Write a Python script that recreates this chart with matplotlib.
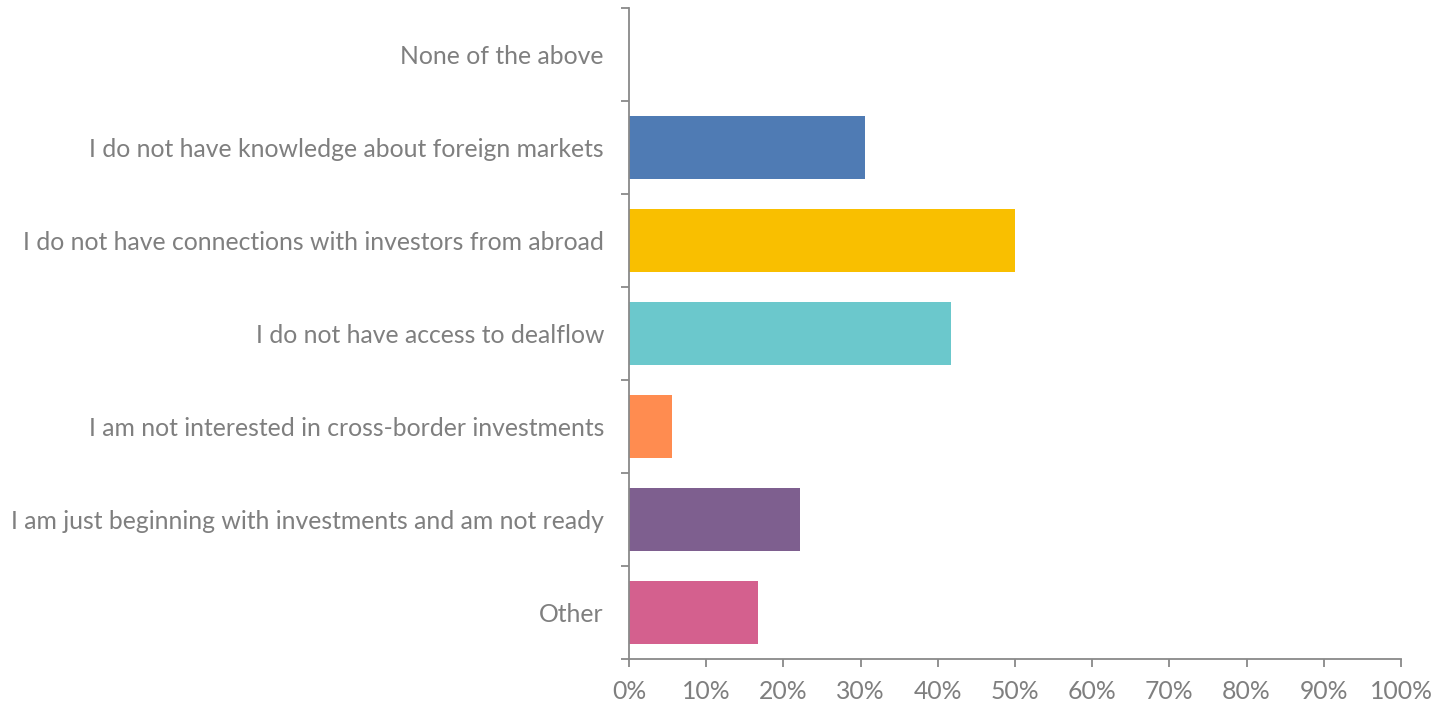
import matplotlib
matplotlib.use("Agg")
import matplotlib.pyplot as plt
from matplotlib.ticker import FixedLocator

categories = [
    "None of the above",
    "I do not have knowledge about foreign markets",
    "I do not have connections with investors from abroad",
    "I do not have access to dealflow",
    "I am not interested in cross-border investments",
    "I am just beginning with investments and am not ready",
    "Other",
]
values = [0.0, 30.6, 50.0, 41.7, 5.6, 22.2, 16.7]
colors = ["#4F7BB4", "#4F7BB4", "#F9BF00", "#6BC8CC", "#FF8C50", "#7E5F8F", "#D4608E"]
xticks = list(range(0, 101, 10))
xticklabels = [f"{t}%" for t in xticks]

plt.rcParams['font.family'] = ['Lato', 'DejaVu Sans']
fig = plt.figure(figsize=(14.41, 7.06), dpi=100)
ax = fig.add_axes([629/1441, 1-659/706, (1401-629)/1441, (659-8)/706])

n = len(categories)
ypos = list(range(n))
ax.barh(ypos, values, height=0.667, color=colors)
ax.set_ylim(n - 0.5, -0.5)
ax.set_xlim(0, 100)

grey_axis = "#898989"
grey_text = "#7F7F7F"
for s in ["top", "right"]:
    ax.spines[s].set_visible(False)
for s in ["left", "bottom"]:
    ax.spines[s].set_color(grey_axis)
    ax.spines[s].set_linewidth(1.3)

ax.set_xticks(xticks)
ax.set_xticklabels(xticklabels)
ax.set_yticks(ypos)
ax.set_yticklabels(categories)
ax.yaxis.set_major_locator(FixedLocator(ypos))
ax.set_yticks([i - 0.5 for i in range(n + 1)], minor=True)
ax.tick_params(axis="y", which="major", length=0, pad=18, labelsize=17.8, labelcolor=grey_text)
ax.tick_params(axis="y", which="minor", length=6, width=1.3, color=grey_axis, direction="out")
ax.tick_params(axis="x", which="major", length=6, width=1.3, color=grey_axis, direction="out",
               labelsize=17.8, labelcolor=grey_text, pad=9)

fig.savefig("out.png", dpi=100)
